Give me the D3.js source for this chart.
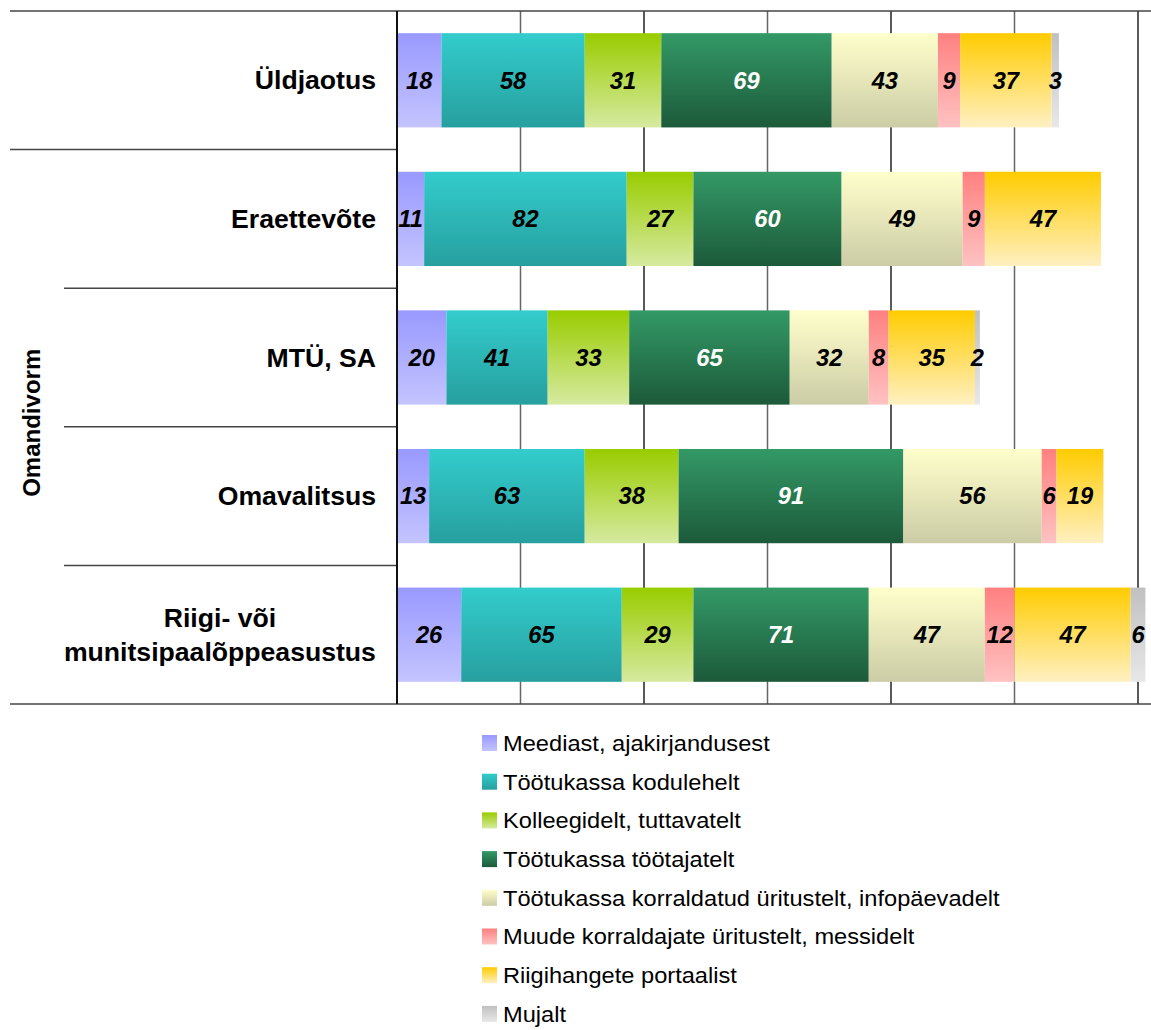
<!DOCTYPE html>
<html>
<head>
<meta charset="utf-8">
<script src="https://cdn.jsdelivr.net/npm/d3@7"></script>
<style>
  html, body { margin: 0; padding: 0; background: #fff; }
  svg { display: block; font-family: "Liberation Sans", Arial, sans-serif; }
</style>
</head>
<body>
<svg id="chart" width="1151" height="1030"></svg>
<script>
// Categories (ownership form), one stacked bar each
const categories = ["Üldjaotus", "Eraettevõte", "MTÜ, SA", "Omavalitsus", "Riigi- või\nmunitsipaalõppeasustus"];
const axisTitle = "Omandivorm";

// Series names (information source)
const seriesNames = [
  "Meediast, ajakirjandusest",
  "Töötukassa kodulehelt",
  "Kolleegidelt, tuttavatelt",
  "Töötukassa töötajatelt",
  "Töötukassa korraldatud üritustelt, infopäevadelt",
  "Muude korraldajate üritustelt, messidelt",
  "Riigihangete portaalist",
  "Mujalt"
];

// Values per series, in category order
const meediast     = [18, 11, 20, 13, 26];
const kodulehelt   = [58, 82, 41, 63, 65];
const kolleegidelt = [31, 27, 33, 38, 29];
const tootajatelt  = [69, 60, 65, 91, 71];
const yritustelt   = [43, 49, 32, 56, 47];
const messidelt    = [9, 9, 8, 6, 12];
const portaalist   = [37, 47, 35, 19, 47];
const mujalt       = [3, 0, 2, 0, 6];

// Grid positions on the value axis
const gridTicks = [0, 50, 100, 150, 200, 250, 300];

const seriesValues = [meediast, kodulehelt, kolleegidelt, tootajatelt, yritustelt, messidelt, portaalist, mujalt];

// Gradient fills (top colour, bottom colour) and label colour per series
const gradients = [
  ["#9999ff", "#c4c4ff"],
  ["#33cccc", "#279f9f"],
  ["#99cc00", "#d6eaa0"],
  ["#339966", "#1c5a3a"],
  ["#ffffcc", "#cccca6"],
  ["#ff8080", "#ffc2c2"],
  ["#ffcc00", "#fff0c2"],
  ["#c0c0c0", "#e8e8e8"]
];
const labelColors = ["#000", "#000", "#000", "#fff", "#000", "#000", "#000", "#000"];

// Text is drawn slightly widened horizontally
const textStretch = 1.065;

const rows = categories.map((c, i) => {
  const r = { category: c };
  seriesNames.forEach((s, j) => { r[s] = seriesValues[j][i]; });
  return r;
});

const svg = d3.select("#chart");

const defs = svg.append("defs");
gradients.forEach((g, i) => {
  const lg = defs.append("linearGradient")
    .attr("id", "grad" + i)
    .attr("x1", 0).attr("y1", 0).attr("x2", 0).attr("y2", 1);
  lg.append("stop").attr("offset", "0%").attr("stop-color", g[0]);
  lg.append("stop").attr("offset", "100%").attr("stop-color", g[1]);
});

const plotLeft = 397, plotTop = 11, plotBottom = 704, frameLeft = 10, frameRight = 1151;

const x = d3.scaleLinear().domain([0, 300]).range([plotLeft, 1138]);
const y = d3.scaleBand().domain(categories).range([plotTop, plotBottom])
  .paddingInner(0.32).paddingOuter(0.16);

const lineColor = "#444";

// Vertical gridlines
svg.append("g")
  .selectAll("line")
  .data(gridTicks)
  .join("line")
  .attr("x1", d => x(d)).attr("x2", d => x(d))
  .attr("y1", plotTop).attr("y2", plotBottom)
  .attr("stroke", (d, i) => i % 2 === 0 ? "#222" : "#666")
  .attr("stroke-width", 1.5);

// Category separators in the label area
const step = y.step();
const sepYs = d3.range(categories.length + 1).map(i => plotTop + i * step);
svg.append("g")
  .selectAll("line")
  .data(sepYs)
  .join("line")
  .attr("x1", (d, i) => (i === 0 || i === 1 || i === categories.length) ? frameLeft : 64)
  .attr("x2", (d, i) => (i === 0 || i === categories.length) ? frameRight : plotLeft)
  .attr("y1", d => d).attr("y2", d => d)
  .attr("stroke", lineColor)
  .attr("stroke-width", 1.5);

// Stacked bars
const stack = d3.stack().keys(seriesNames);
const layers = stack(rows);

const layerG = svg.append("g")
  .selectAll("g")
  .data(layers)
  .join("g")
  .attr("fill", (d, i) => `url(#grad${i})`);

layerG.selectAll("rect")
  .data(d => d.filter(p => p[1] - p[0] > 0))
  .join("rect")
  .attr("x", d => x(d[0]))
  .attr("width", d => x(d[1]) - x(d[0]))
  .attr("y", d => y(d.data.category))
  .attr("height", y.bandwidth());

// Value labels centred on each segment
const labelG = svg.append("g")
  .selectAll("g")
  .data(layers)
  .join("g")
  .attr("fill", (d, i) => labelColors[i]);

labelG.selectAll("text")
  .data(d => d.filter(p => p[1] - p[0] > 0).map(p => ({ p, key: d.key })))
  .join("text")
  .attr("transform", d => `translate(${(x(d.p[0]) + x(d.p[1])) / 2}, ${y(d.p.data.category) + y.bandwidth() / 2}) scale(1.03,1)`)
  .attr("dy", "0.36em")
  .attr("text-anchor", "middle")
  .attr("font-size", 23)
  .attr("font-weight", "bold")
  .attr("font-style", "italic")
  .text(d => d.p.data[d.key]);

// Value axis line
svg.append("line")
  .attr("x1", plotLeft).attr("x2", plotLeft)
  .attr("y1", plotTop).attr("y2", plotBottom)
  .attr("stroke", "#111").attr("stroke-width", 2);

// Category labels, right-aligned at the label column edge
const labelRight = 376;
const catG = svg.append("g")
  .selectAll("text")
  .data(categories)
  .join("text")
  .attr("font-size", 25)
  .attr("font-weight", "bold")
  .attr("fill", "#000");

catG.each(function (c) {
  const lines = c.split("\n");
  const t = d3.select(this);
  const cy = y(c) + y.bandwidth() / 2;
  const lh = 34;
  if (lines.length === 1) {
    t.attr("transform", `translate(${labelRight}, ${cy}) scale(${textStretch},1)`)
      .attr("dy", "0.36em").attr("text-anchor", "end").text(c);
  } else {
    // Multi-line label: lines centred on a common axis, block right-aligned
    const widths = lines.map(l => { t.text(l); return this.getComputedTextLength(); });
    t.text(null);
    const w = d3.max(widths);
    t.attr("transform", `translate(${labelRight}, ${cy}) scale(${textStretch},1)`)
      .attr("text-anchor", "middle");
    lines.forEach((l, k) => {
      t.append("tspan")
        .attr("x", -w / 2)
        .attr("y", (k - (lines.length - 1) / 2) * lh)
        .attr("dy", "0.36em")
        .text(l);
    });
  }
});

// Axis title (rotated)
svg.append("text")
  .attr("transform", `translate(40, ${(plotTop + step + plotBottom) / 2 - 4}) rotate(-90)`)
  .attr("text-anchor", "middle")
  .attr("font-size", 24)
  .attr("font-weight", "bold")
  .text(axisTitle);

// Legend
const legend = svg.append("g")
  .selectAll("g")
  .data(seriesNames)
  .join("g")
  .attr("transform", (d, i) => `translate(482, ${743 + i * 38.7})`);

legend.append("rect")
  .attr("x", 0).attr("y", -8)
  .attr("width", 15).attr("height", 16)
  .attr("fill", (d, i) => `url(#grad${i})`);

legend.append("text")
  .attr("transform", `translate(21, 0) scale(1.075,1)`)
  .attr("dy", "0.36em")
  .attr("font-size", 22)
  .attr("fill", "#000")
  .text(d => d);
</script>
</body>
</html>
